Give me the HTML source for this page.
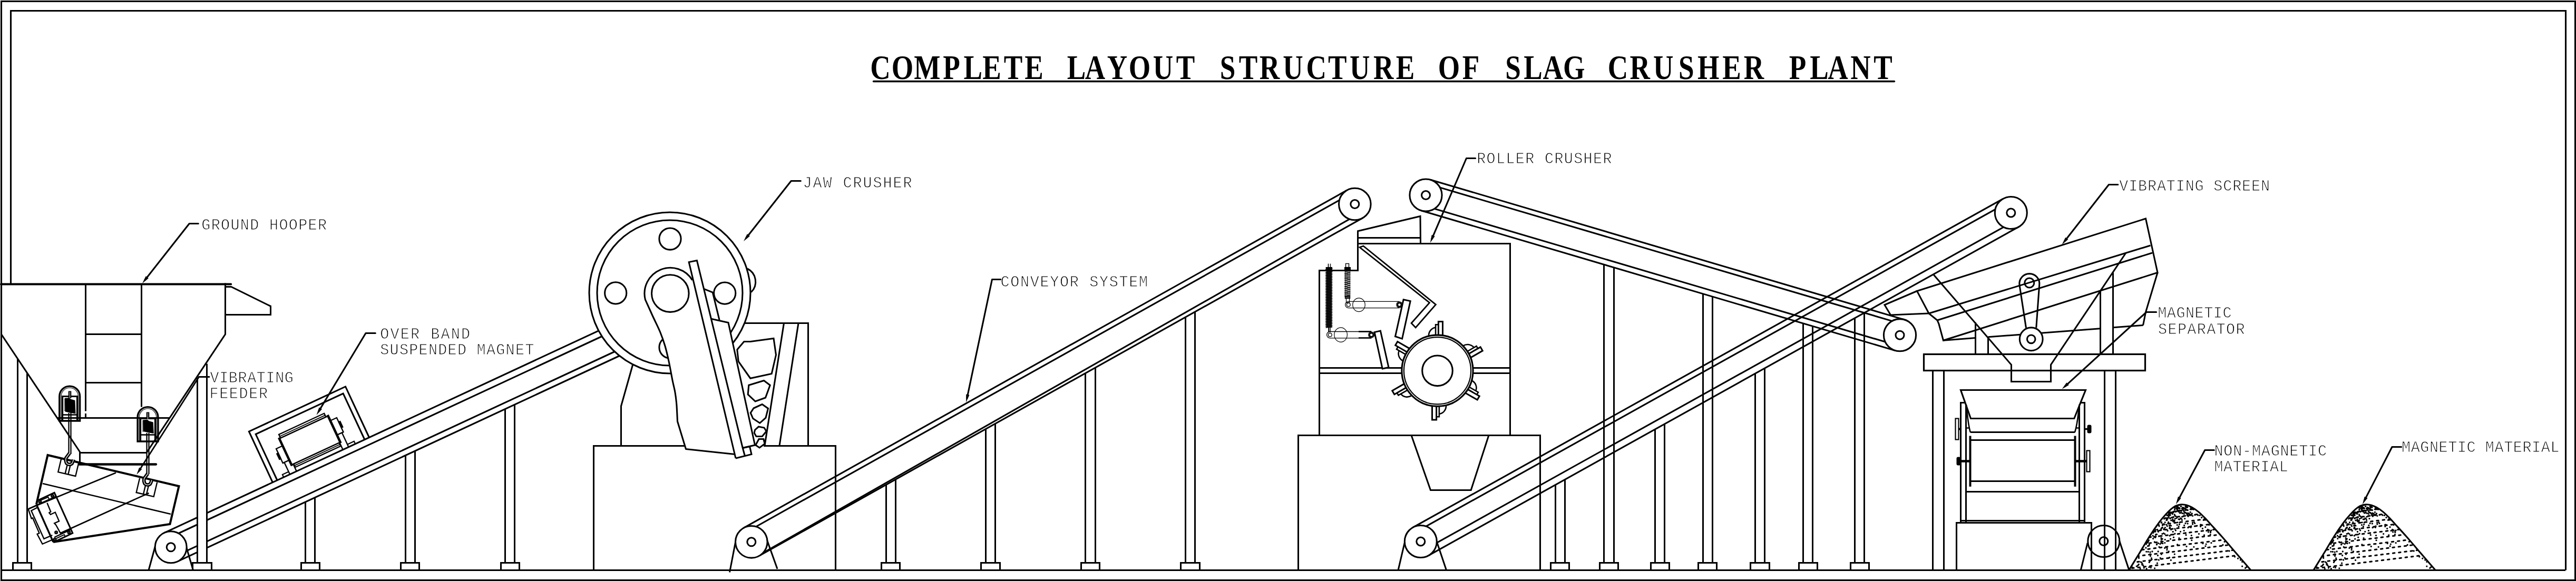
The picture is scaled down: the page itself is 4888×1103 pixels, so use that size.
<!DOCTYPE html>
<html lang="en">
<head>
<meta charset="utf-8">
<title>Complete Layout Structure of Slag Crusher Plant</title>
<style>
html,body{margin:0;padding:0;background:#fff;}
body{width:4888px;height:1103px;}
svg{display:block;will-change:transform;}
.d{fill:none;stroke:#000;stroke-width:3.05;stroke-linecap:butt;stroke-linejoin:miter;}
.lb{font-family:"Liberation Mono","DejaVu Sans Mono",monospace;fill:#000;stroke:#fff;stroke-width:1px;}
.tt{font-family:"Liberation Serif","DejaVu Serif",serif;font-weight:bold;font-size:66.5px;fill:#000;stroke:none;}
</style>
</head>
<body>
<svg width="4888" height="1103" viewBox="0 0 4888 1103" role="img" aria-label="Complete layout structure of slag crusher plant">
<rect x="0" y="0" width="4888" height="1103" fill="#fff"/>
<g class="d">
<g stroke-width="3.1">
<rect x="2.5" y="2.5" width="4884" height="1099"/>
<polyline points="20.5,540 20.5,20.5 4868.5,20.5 4868.5,1082.6"/>
<line x1="2" y1="1082.5" x2="4868" y2="1082.5" stroke-width="3.0"/>
</g>
<line x1="311.6" y1="1011.6" x2="1135.9" y2="627.8"/>
<line x1="338.8" y1="1012.5" x2="1142.2" y2="638.5"/>
<line x1="353.3" y1="1046.1" x2="1166.3" y2="667.5"/>
<line x1="336.9" y1="1065.9" x2="1175.5" y2="675.5"/>
<line x1="579.5" y1="953" x2="579.5" y2="1068.3" stroke-width="3.0"/>
<line x1="597.5" y1="944.5" x2="597.5" y2="1068.3" stroke-width="3.0"/>
<polyline points="571.5,1082.6 571.5,1068.5 606.5,1068.5 606.5,1082.6"/>
<line x1="769.5" y1="864.8" x2="769.5" y2="1068.3" stroke-width="3.0"/>
<line x1="787.5" y1="856.3" x2="787.5" y2="1068.3" stroke-width="3.0"/>
<polyline points="760.5,1082.6 760.5,1068.5 795.5,1068.5 795.5,1082.6"/>
<line x1="958.5" y1="776.5" x2="958.5" y2="1068.3" stroke-width="3.0"/>
<line x1="976.5" y1="768.1" x2="976.5" y2="1068.3" stroke-width="3.0"/>
<polyline points="950.5,1082.6 950.5,1068.5 985.5,1068.5 985.5,1082.6"/>
<line x1="294.5" y1="1037" x2="282" y2="1082.6"/>
<line x1="354" y1="1040" x2="366.5" y2="1082.6"/>
<circle cx="324.2" cy="1038.8" r="30" fill="#fff"/>
<circle cx="324.2" cy="1038.8" r="8"/>
<g transform="translate(311.6,1011.6) rotate(-24.97) scale(1,-1)">
<polyline points="227,0 227,106.5 429,106.5 429,0"/>
<polyline points="236.5,0 236.5,96.5 419.5,96.5 419.5,0"/>
<rect x="273" y="15" width="103" height="55" stroke-width="2.6"/>
<line x1="273.5" y1="13" x2="273.5" y2="72" stroke-width="4.5"/>
<line x1="375.5" y1="13" x2="375.5" y2="72" stroke-width="4.5"/>
<polyline points="276,70 276,77.5 371,77.5 371,70" stroke-width="2.4"/>
<line x1="276" y1="73.5" x2="371" y2="73.5" stroke-width="1.8"/>
<polyline points="278,15 278,8 373,8 373,15" stroke-width="2.4"/>
<line x1="278" y1="11.5" x2="373" y2="11.5" stroke-width="1.8"/>
<polyline points="273,55 260,55 260,25 273,25" stroke-width="2.4"/>
<polyline points="376,60 389,60 389,30 376,30" stroke-width="2.4"/>
<rect x="257" y="34" width="3" height="12" stroke-width="2" fill="#000"/>
<rect x="389" y="39" width="3" height="12" stroke-width="2" fill="#000"/>
<line x1="263" y1="25" x2="263" y2="0" stroke-width="2.4"/>
<line x1="277" y1="15" x2="277" y2="0" stroke-width="2.4"/>
<line x1="386" y1="30" x2="386" y2="0" stroke-width="2.4"/>
<line x1="374" y1="15" x2="374" y2="0" stroke-width="2.4"/>
<polyline points="250,0 250,5.5 263,5.5" stroke-width="2.2"/>
<polyline points="386,5.5 400,5.5 400,0" stroke-width="2.2"/>
</g>
<rect x="374.5" y="960" width="18" height="108" fill="#fff" stroke="none"/>
<line x1="33.5" y1="681.5" x2="33.5" y2="1068.3" stroke-width="3.0"/>
<line x1="51.5" y1="709" x2="51.5" y2="1068.3" stroke-width="3.0"/>
<polyline points="24.5,1082.6 24.5,1068.5 59.5,1068.5 59.5,1082.6"/>
<line x1="374.5" y1="717" x2="374.5" y2="1068.3" stroke-width="3.0"/>
<line x1="392.5" y1="690.5" x2="392.5" y2="1068.3" stroke-width="3.0"/>
<polyline points="365.5,1082.6 365.5,1068.5 401.5,1068.5 401.5,1082.6"/>
<line x1="2" y1="539.5" x2="438.2" y2="539.5" stroke-width="4.0" stroke-linecap="round"/>
<polyline points="2.5,540 2.5,634.5 151.3,857.5"/>
<polyline points="427.5,537.5 427.5,634.5 278,859.5"/>
<line x1="162.5" y1="540" x2="162.5" y2="780.5" stroke-width="3.0"/>
<line x1="162.5" y1="785" x2="162.5" y2="793" stroke-width="3.0"/>
<line x1="268.5" y1="540" x2="268.5" y2="772.5" stroke-width="3.0"/>
<line x1="162" y1="634.5" x2="268.5" y2="634.5" stroke-width="3.0"/>
<line x1="162" y1="726.5" x2="268.5" y2="726.5" stroke-width="3.0"/>
<line x1="109" y1="793.5" x2="322.5" y2="793.5" stroke-width="3.0"/>
<line x1="151" y1="859.5" x2="278" y2="859.5" stroke-width="3.0"/>
<line x1="151.5" y1="857" x2="151.5" y2="881" stroke-width="3.0"/>
<line x1="150" y1="881.5" x2="296" y2="881.5" stroke-width="4.3" stroke-linecap="round"/>
<polyline points="427.8,544.5 438.8,544.5 513.5,581.3 513.5,597.5 427.8,597.5"/>
<path d="M112.8,799 V752.5 A19.4,19.4 0 0 1 151.6,752.5 V799 Z" stroke-width="3.4"/>
<path d="M116,799 V752.5 A16.2,16.2 0 0 1 148.4,752.5 V799" stroke-width="1.1"/>
<polyline points="118.5,799 118.5,752.5 146.5,752.5 146.5,799" stroke-width="3.2"/>
<line x1="118.4" y1="787.5" x2="146" y2="787.5" stroke-width="2.6"/>
<polygon points="123.7,756.5 131.2,756 134.2,758.5 141.7,760.5 142.7,784.5 133.2,783 124.2,781" stroke-width="1.5" fill="#000"/>
<path d="M121.7,757.5 h3 M121.7,759.7 h3 M121.7,761.9 h3 M121.7,764.1 h3 M121.7,766.3 h3 M121.7,768.5 h3 M121.7,770.7 h3 M121.7,772.9 h3 M121.7,775.1 h3 M121.7,777.3 h3 M121.7,779.5 h3 " stroke-width="1.0"/>
<path d="M261.1,838 V792 A19.4,19.4 0 0 1 299.9,792 V838 Z" stroke-width="3.4"/>
<path d="M264.3,838 V792 A16.2,16.2 0 0 1 296.7,792 V838" stroke-width="1.1"/>
<polyline points="266.5,838 266.5,794.5 294.5,794.5 294.5,838" stroke-width="3.2"/>
<line x1="266.7" y1="825.5" x2="294.3" y2="825.5" stroke-width="2.6"/>
<polygon points="272,798 279.5,797.5 282.5,800 290,802 291,822 281.5,820.5 272.5,818.5" stroke-width="1.5" fill="#000"/>
<path d="M270,799 h3 M270,801.2 h3 M270,803.4 h3 M270,805.6 h3 M270,807.8 h3 M270,810 h3 M270,812.2 h3 M270,814.4 h3 M270,816.6 h3 M270,818.8 h3 " stroke-width="1.0"/>
<line x1="132.5" y1="742.5" x2="132.5" y2="756" stroke-width="5.6"/>
<line x1="132.5" y1="744" x2="132.5" y2="756" stroke-width="1.2" stroke="#bbb"/>
<line x1="130.5" y1="784" x2="130.5" y2="862" stroke-width="2.3"/>
<line x1="134.5" y1="784" x2="134.5" y2="862" stroke-width="2.3"/>
<line x1="280.5" y1="782.5" x2="280.5" y2="796" stroke-width="5.6"/>
<line x1="280.5" y1="784" x2="280.5" y2="796" stroke-width="1.2" stroke="#bbb"/>
<line x1="278.5" y1="822" x2="278.5" y2="900" stroke-width="2.3"/>
<line x1="282.5" y1="822" x2="282.5" y2="900" stroke-width="2.3"/>
<polyline points="69,957.5 90.5,864 339.5,923 322.5,995 101,1029" stroke-width="4.0" stroke-linejoin="miter"/>
<polyline points="69,957.5 101,1029" stroke-width="3.4"/>
<line x1="81" y1="918" x2="324" y2="976" stroke-width="2.6"/>
<line x1="220" y1="897.5" x2="54" y2="966" stroke-width="2.6"/>
<line x1="282.5" y1="936" x2="115" y2="1012" stroke-width="2.6"/>
<g transform="translate(130,886.5) rotate(13.3)">
<polyline points="-17,-14 -17,14 17,14 17,-14" stroke-width="2.4"/>
<line x1="-3.2" y1="-3" x2="-3.2" y2="14" stroke-width="2.4"/>
<line x1="2.6" y1="-3" x2="2.6" y2="14" stroke-width="2.4"/>
</g>
<g transform="translate(278.4,925.3) rotate(13.3)">
<polyline points="-17,-14 -17,14 17,14 17,-14" stroke-width="2.4"/>
<line x1="-3.2" y1="-3" x2="-3.2" y2="14" stroke-width="2.4"/>
<line x1="2.6" y1="-3" x2="2.6" y2="14" stroke-width="2.4"/>
</g>
<path d="M131.9,860.5 L125.3,869.4 Q123.7,875 126.5,879.7 Q131.6,883.7 136.5,880 Q139,875.6 139.4,872.5" stroke-width="6.6" stroke-linejoin="round"/>
<path d="M131.9,860.5 L125.3,869.4 Q123.7,875 126.5,879.7 Q131.6,883.7 136.5,880 Q139,875.6 139.4,872.5" stroke-width="1.3" stroke="#fff" stroke-linejoin="round"/>
<path d="M280.3,899.3 L273.7,908.2 Q272.1,913.8 274.9,918.5 Q280,922.5 284.9,918.8 Q287.4,914.4 287.8,911.3" stroke-width="6.6" stroke-linejoin="round"/>
<path d="M280.3,899.3 L273.7,908.2 Q272.1,913.8 274.9,918.5 Q280,922.5 284.9,918.8 Q287.4,914.4 287.8,911.3" stroke-width="1.3" stroke="#fff" stroke-linejoin="round"/>
<polyline points="72.5,949.7 103.2,935.3 137.8,1012.1 107.2,1026.9" stroke-width="3"/>
<polyline points="72.5,957.6 53.7,966.6 59.7,984.4 62.1,983.4 74.5,1012.1 70.6,1014 80.5,1032.8 101.2,1023.9" stroke-width="2.4"/>
<polyline points="72.5,962.6 59.3,969.5 83.4,1022.9 99.3,1016" stroke-width="2.4"/>
<polyline points="89.4,954.7 96.3,971.5 93.3,973.5 95.9,976.8 104.8,972.5 112.1,989.3 103.2,993.3 106.2,996.6 115.1,1013" stroke-width="2.4"/>
<polyline points="77.5,949.7 91.3,943.8 93.7,948.7 79.5,954.7" stroke-width="2"/>
<polyline points="107.2,1022 122,1015 124,1019 109.1,1025.9" stroke-width="2"/>
<line x1="72.5" y1="957.6" x2="105.2" y2="942.8" stroke-width="2.4"/>
<line x1="103.2" y1="1020" x2="134.9" y2="1005.1" stroke-width="2.4"/>
<circle cx="99.6" cy="941.4" r="2.6" stroke-width="1.8" fill="#333"/>
<circle cx="75.9" cy="952.3" r="2.6" stroke-width="1.8" fill="#333"/>
<circle cx="106.6" cy="1010.7" r="2.6" stroke-width="1.8" fill="#333"/>
<circle cx="130.9" cy="1010.7" r="2.6" stroke-width="1.8" fill="#333"/>
<circle cx="104.2" cy="1023.9" r="2.6" stroke-width="1.8" fill="#333"/>
<line x1="1410.9" y1="1002.3" x2="2555.9" y2="361.1"/>
<line x1="1415.5" y1="1010.5" x2="2560.5" y2="369.3"/>
<line x1="1440.6" y1="1055.2" x2="2585.6" y2="413.9"/>
<line x1="1441.7" y1="1053.2" x2="2580.4" y2="404.8"/>
<line x1="1681.5" y1="920.5" x2="1681.5" y2="1068.3" stroke-width="3.0"/>
<line x1="1699.5" y1="910.3" x2="1699.5" y2="1068.3" stroke-width="3.0"/>
<polyline points="1672.5,1082.6 1672.5,1068.5 1707.5,1068.5 1707.5,1082.6"/>
<line x1="1870.5" y1="814.5" x2="1870.5" y2="1068.3" stroke-width="3.0"/>
<line x1="1888.5" y1="804.3" x2="1888.5" y2="1068.3" stroke-width="3.0"/>
<polyline points="1861.5,1082.6 1861.5,1068.5 1897.5,1068.5 1897.5,1082.6"/>
<line x1="2059.5" y1="708.4" x2="2059.5" y2="1068.3" stroke-width="3.0"/>
<line x1="2078.5" y1="698.1" x2="2078.5" y2="1068.3" stroke-width="3.0"/>
<polyline points="2051.5,1082.6 2051.5,1068.5 2086.5,1068.5 2086.5,1082.6"/>
<line x1="2249.5" y1="602.3" x2="2249.5" y2="1068.3" stroke-width="3.0"/>
<line x1="2267.5" y1="592" x2="2267.5" y2="1068.3" stroke-width="3.0"/>
<polyline points="2240.5,1082.6 2240.5,1068.5 2276.5,1068.5 2276.5,1082.6"/>
<line x1="1396" y1="1027" x2="1384.5" y2="1086.5"/>
<line x1="1455.5" y1="1025.5" x2="1475" y2="1080"/>
<circle cx="1425.8" cy="1028.8" r="30.3" fill="#fff"/>
<circle cx="1425.8" cy="1028.8" r="8"/>
<circle cx="2570.8" cy="387.5" r="30.3" fill="#fff"/>
<circle cx="2570.8" cy="387.5" r="8"/>
<polyline points="1126.5,1082.6 1126.5,846.5 1300,846.5"/>
<polyline points="1449,846.5 1585.5,846.5 1585.5,1082.6"/>
<polyline points="1200.5,693 1178.5,771 1178.5,846"/>
<polyline points="1413.5,613.5 1533.5,613.5 1533.5,846"/>
<line x1="1487.5" y1="613.5" x2="1451" y2="846"/>
<line x1="1515" y1="613.5" x2="1479" y2="846"/>
<circle cx="1271" cy="556" r="153"/>
<circle cx="1271" cy="556" r="138"/>
<circle cx="1271.5" cy="453.5" r="20.6"/>
<circle cx="1168.2" cy="556.3" r="20.6"/>
<circle cx="1375.2" cy="556.6" r="20.6"/>
<circle cx="1271.5" cy="659.5" r="20.6"/>
<path d="M1418,510 A27.6,27.6 0 0 1 1425.3,554.7"/>
<polygon points="1224,569 1230,580 1252.5,630 1267.5,680 1276,725 1280,732.5 1283.8,767.5 1285,800 1301,852.5 1395,862.5 1396,870 1426,862.5 1431.5,845 1382,613 1349.4,605.3 1334.7,545.5 1290,545.5" fill="#fff" stroke="none"/>
<circle cx="1271.8" cy="557.1" r="35.3" fill="#fff"/>
<path d="M1313.7,531.9 A48.9,48.9 0 0 0 1224.4,568.9 C1229.1,579.3 1233.8,589.8 1238.5,600 C1243.2,610.2 1248.6,620.5 1252.5,630 C1256.4,639.5 1259.2,647.3 1262,657 C1264.8,666.7 1267.2,677.2 1269.5,688 C1271.8,698.8 1274.1,712.5 1276,722 C1277.9,731.5 1279.7,737.4 1281,745 C1282.3,752.6 1283,758.3 1283.8,767.5 C1284.5,776.7 1285.2,794.6 1285.5,800 L1301.5,852.5 L1395,862.5" stroke-linejoin="round"/>
<polyline points="1396,870 1307.2,497.6 1322.4,494.5 1409.3,850.5 1413.5,866"/>
<polyline points="1396,870 1426,862.5 1422.5,847.5 1409,850.5"/>
<polyline points="1336.1,548.7 1352.3,555.2 1365.1,607.7"/>
<polyline points="1349.4,605.3 1382,612.5 1432.5,845 1409,850.5"/>
<polygon points="1398.8,663.8 1411.8,648.5 1423.8,648.5 1468,642.5 1472.5,673.8 1464.2,709.5 1423.8,718.2 1401.2,686.2"/>
<polygon points="1420.8,731.2 1449.5,722.5 1461.2,731.2 1452.5,755 1433.2,762 1419.2,748.8"/>
<polygon points="1430,775 1446.2,767.5 1457.5,775.5 1453,793.2 1441.8,803.2 1428.8,794.5 1424.2,783.8"/>
<polygon points="1439.5,810 1450,812 1454.2,818.8 1446.2,828.5 1435,828.5 1431.2,822 1432.5,816.2"/>
<polygon points="1440,833.5 1448.8,833.5 1451.2,842.5 1441.2,850 1433.8,845"/>
<line x1="2714.2" y1="341.2" x2="3613.7" y2="606.9"/>
<line x1="2711.6" y1="349.9" x2="3611.1" y2="615.6"/>
<line x1="2699.8" y1="389.8" x2="3599.3" y2="655.5"/>
<line x1="2696.8" y1="399.8" x2="3596.3" y2="665.6"/>
<line x1="3043.5" y1="502.4" x2="3043.5" y2="1068.3" stroke-width="3.0"/>
<line x1="3062.5" y1="507.8" x2="3062.5" y2="1068.3" stroke-width="3.0"/>
<polyline points="3035.5,1082.6 3035.5,1068.5 3070.5,1068.5 3070.5,1082.6"/>
<line x1="3231.5" y1="557.7" x2="3231.5" y2="1068.3" stroke-width="3.0"/>
<line x1="3249.5" y1="563.1" x2="3249.5" y2="1068.3" stroke-width="3.0"/>
<polyline points="3222.5,1082.6 3222.5,1068.5 3257.5,1068.5 3257.5,1082.6"/>
<line x1="3421.5" y1="613.9" x2="3421.5" y2="1068.3" stroke-width="3.0"/>
<line x1="3439.5" y1="619.4" x2="3439.5" y2="1068.3" stroke-width="3.0"/>
<polyline points="3413.5,1082.6 3413.5,1068.5 3448.5,1068.5 3448.5,1082.6"/>
<circle cx="2705.5" cy="370.5" r="30.6" fill="#fff"/>
<circle cx="2705.5" cy="370.5" r="8"/>
<circle cx="3605" cy="636.2" r="30.6" fill="#fff"/>
<circle cx="3605" cy="636.2" r="8"/>
<line x1="2680.9" y1="1001.4" x2="3800.9" y2="377.4"/>
<line x1="2685.9" y1="1010.4" x2="3805.9" y2="386.4"/>
<line x1="2704" y1="1042.9" x2="3824" y2="418.9"/>
<line x1="2710.6" y1="1054.6" x2="3830.6" y2="430.6"/>
<line x1="2951.5" y1="920.7" x2="2951.5" y2="1068.3" stroke-width="3.0"/>
<line x1="2969.5" y1="910.5" x2="2969.5" y2="1068.3" stroke-width="3.0"/>
<polyline points="2942.5,1082.6 2942.5,1068.5 2977.5,1068.5 2977.5,1082.6"/>
<line x1="3140.5" y1="815.1" x2="3140.5" y2="1068.3" stroke-width="3.0"/>
<line x1="3158.5" y1="804.9" x2="3158.5" y2="1068.3" stroke-width="3.0"/>
<polyline points="3132.5,1082.6 3132.5,1068.5 3167.5,1068.5 3167.5,1082.6"/>
<line x1="3330.5" y1="709.4" x2="3330.5" y2="1068.3" stroke-width="3.0"/>
<line x1="3348.5" y1="699.2" x2="3348.5" y2="1068.3" stroke-width="3.0"/>
<polyline points="3321.5,1082.6 3321.5,1068.5 3357.5,1068.5 3357.5,1082.6"/>
<line x1="3519.5" y1="604" x2="3519.5" y2="1068.3" stroke-width="3.0"/>
<line x1="3537.5" y1="593.8" x2="3537.5" y2="1068.3" stroke-width="3.0"/>
<polyline points="3511.5,1082.6 3511.5,1068.5 3546.5,1068.5 3546.5,1082.6"/>
<line x1="2665.8" y1="1028" x2="2653" y2="1082.6"/>
<line x1="2726.2" y1="1028" x2="2744.5" y2="1082.6"/>
<circle cx="2695.8" cy="1028" r="30.5" fill="#fff"/>
<circle cx="2695.8" cy="1028" r="8"/>
<circle cx="3815.8" cy="404" r="30.5" fill="#fff"/>
<circle cx="3815.8" cy="404" r="8"/>
<polyline points="2463.5,1082.6 2463.5,826.5 2922.5,826.5 2922.5,1082.6"/>
<polyline points="2678,826.3 2714.5,930.5 2791.2,930.5 2825,826.3"/>
<polyline points="2503.5,826 2503.5,513.5 2576.5,513.5 2576.5,438.8 2695,410.5 2695.5,462.5"/>
<line x1="2575.5" y1="462.5" x2="2865.5" y2="462.5" stroke-width="3.0"/>
<line x1="2865.5" y1="461" x2="2865.5" y2="826" stroke-width="3.0"/>
<line x1="2576.8" y1="451.5" x2="2695" y2="451.5" stroke-width="3.0"/>
<line x1="2503.2" y1="698.5" x2="2665" y2="698.5" stroke-width="3.0"/>
<line x1="2790" y1="698.5" x2="2865.5" y2="698.5" stroke-width="3.0"/>
<line x1="2503.2" y1="708.5" x2="2665" y2="708.5" stroke-width="3.0"/>
<line x1="2790" y1="708.5" x2="2865.5" y2="708.5" stroke-width="3.0"/>
<circle cx="2727.5" cy="703.8" r="67.6" stroke-width="3.2" fill="#fff"/>
<circle cx="2727.5" cy="703.8" r="63.6" stroke-width="2.2"/>
<circle cx="2727.5" cy="703.8" r="28.8"/>
<g transform="translate(2727.5,703.8) rotate(0)">
<polyline points="1.9,-67.4 1.9,-93.2 10,-93.2 10,-67" stroke-width="3"/>
<polyline points="-3.4,-67.6 -3.4,-87.5 1.9,-87.5" stroke-width="2.6"/>
<path d="M-16.5,-65.7 A14.5,15.5 0 0 1 -3.4,-82" stroke-width="2.6"/>
</g>
<g transform="translate(2727.5,703.8) rotate(60)">
<polyline points="1.9,-67.4 1.9,-93.2 10,-93.2 10,-67" stroke-width="3"/>
<polyline points="-3.4,-67.6 -3.4,-87.5 1.9,-87.5" stroke-width="2.6"/>
<path d="M-16.5,-65.7 A14.5,15.5 0 0 1 -3.4,-82" stroke-width="2.6"/>
</g>
<g transform="translate(2727.5,703.8) rotate(120)">
<polyline points="1.9,-67.4 1.9,-93.2 10,-93.2 10,-67" stroke-width="3"/>
<polyline points="-3.4,-67.6 -3.4,-87.5 1.9,-87.5" stroke-width="2.6"/>
<path d="M-16.5,-65.7 A14.5,15.5 0 0 1 -3.4,-82" stroke-width="2.6"/>
</g>
<g transform="translate(2727.5,703.8) rotate(180)">
<polyline points="1.9,-67.4 1.9,-93.2 10,-93.2 10,-67" stroke-width="3"/>
<polyline points="-3.4,-67.6 -3.4,-87.5 1.9,-87.5" stroke-width="2.6"/>
<path d="M-16.5,-65.7 A14.5,15.5 0 0 1 -3.4,-82" stroke-width="2.6"/>
</g>
<g transform="translate(2727.5,703.8) rotate(240)">
<polyline points="1.9,-67.4 1.9,-93.2 10,-93.2 10,-67" stroke-width="3"/>
<polyline points="-3.4,-67.6 -3.4,-87.5 1.9,-87.5" stroke-width="2.6"/>
<path d="M-16.5,-65.7 A14.5,15.5 0 0 1 -3.4,-82" stroke-width="2.6"/>
</g>
<g transform="translate(2727.5,703.8) rotate(300)">
<polyline points="1.9,-67.4 1.9,-93.2 10,-93.2 10,-67" stroke-width="3"/>
<polyline points="-3.4,-67.6 -3.4,-87.5 1.9,-87.5" stroke-width="2.6"/>
<path d="M-16.5,-65.7 A14.5,15.5 0 0 1 -3.4,-82" stroke-width="2.6"/>
</g>
<polygon points="2587,467 2724.4,578.1 2686.2,621.9 2678.1,613.5 2712.5,574.6 2580,469.5" stroke-width="2.8"/>
<polygon points="2663.1,568.8 2676.2,571.6 2660.6,643.1 2647.5,638.8" stroke-width="3.0"/>
<polygon points="2608.1,630.6 2619.4,628.1 2635,697.5 2623.2,700" stroke-width="3.0" fill="#fff"/>
<path d="M2558.8,572.4 H2655.4 M2558.8,584.6 H2655.4 M2558.8,572.4 A6.1,6.1 0 0 0 2558.8,584.6" stroke-width="1.3"/>
<circle cx="2558.8" cy="578.5" r="3.4" stroke-width="1.3"/>
<circle cx="2655.4" cy="578.5" r="5.6" stroke-width="1.2"/>
<circle cx="2655.4" cy="578.5" r="3.6" stroke-width="2.6"/>
<path d="M2523.8,629.5 H2602.2 M2523.8,641.9 H2602.2 M2523.8,629.5 A6.2,6.2 0 0 0 2523.8,641.9" stroke-width="1.3"/>
<circle cx="2523.8" cy="635.7" r="3.4" stroke-width="1.3"/>
<circle cx="2602.2" cy="635.7" r="5.6" stroke-width="1.2"/>
<circle cx="2602.2" cy="635.7" r="3.6" stroke-width="2.6"/>
<line x1="2578" y1="629.5" x2="2602.2" y2="629.5" stroke-width="2.6"/>
<line x1="2578" y1="641.5" x2="2602.2" y2="641.5" stroke-width="2.6"/>
<ellipse cx="2578.5" cy="578.75" rx="11.75" ry="12.9" stroke-width="1.2"/>
<ellipse cx="2544.1" cy="635.6" rx="12.3" ry="13.75" stroke-width="1.2"/>
<rect x="2516.5" y="515" width="10.5" height="107" fill="#222" stroke="none"/>
<path d="M2515.5,508 L2527.9,509.5 L2515.5,511 L2527.9,512.5 L2515.5,514 L2527.9,515.5 L2515.5,517 L2527.9,518.5 L2515.5,520 L2527.9,521.5 L2515.5,523 L2527.9,524.5 L2515.5,526 L2527.9,527.5 L2515.5,529 L2527.9,530.5 L2515.5,532 L2527.9,533.5 L2515.5,535 L2527.9,536.5 L2515.5,538 L2527.9,539.5 L2515.5,541 L2527.9,542.5 L2515.5,544 L2527.9,545.5 L2515.5,547 L2527.9,548.5 L2515.5,550 L2527.9,551.5 L2515.5,553 L2527.9,554.5 L2515.5,556 L2527.9,557.5 L2515.5,559 L2527.9,560.5 L2515.5,562 L2527.9,563.5 L2515.5,565 L2527.9,566.5 L2515.5,568 L2527.9,569.5 L2515.5,571 L2527.9,572.5 L2515.5,574 L2527.9,575.5 L2515.5,577 L2527.9,578.5 L2515.5,580 L2527.9,581.5 L2515.5,583 L2527.9,584.5 L2515.5,586 L2527.9,587.5 L2515.5,589 L2527.9,590.5 L2515.5,592 L2527.9,593.5 L2515.5,595 L2527.9,596.5 L2515.5,598 L2527.9,599.5 L2515.5,601 L2527.9,602.5 L2515.5,604 L2527.9,605.5 L2515.5,607 L2527.9,608.5 L2515.5,610 L2527.9,611.5 L2515.5,613 L2527.9,614.5 L2515.5,616 L2527.9,617.5 L2515.5,619 L2527.9,620.5 L2515.5,622" stroke-width="1.6" stroke-linejoin="round"/>
<line x1="2520.5" y1="500.6" x2="2520.5" y2="512" stroke-width="1.6"/>
<line x1="2524.5" y1="500.6" x2="2524.5" y2="512" stroke-width="1.4"/>
<rect x="2516.5" y="507.5" width="11" height="7" stroke-width="1" fill="#000"/>
<line x1="2521.5" y1="622" x2="2521.5" y2="631" stroke-width="2.4"/>
<line x1="2524.5" y1="622" x2="2524.5" y2="631" stroke-width="1.2"/>
<path d="M2551.3,515 L2562.1,516.8 L2551.3,518.6 L2562.1,520.4 L2551.3,522.2 L2562.1,524 L2551.3,525.8 L2562.1,527.6 L2551.3,529.4 L2562.1,531.2 L2551.3,533 L2562.1,534.8 L2551.3,536.6 L2562.1,538.4 L2551.3,540.2 L2562.1,542 L2551.3,543.8 L2562.1,545.6 L2551.3,547.4 L2562.1,549.2 L2551.3,551 L2562.1,552.8 L2551.3,554.6 L2562.1,556.4 L2551.3,558.2 L2562.1,560 L2551.3,561.8 L2562.1,562" stroke-width="1.25" stroke-linejoin="round"/>
<line x1="2552.5" y1="515" x2="2552.5" y2="562" stroke-width="0.9"/>
<line x1="2561.5" y1="515" x2="2561.5" y2="562" stroke-width="0.9"/>
<rect x="2553.5" y="500.5" width="6" height="7" stroke-width="1.4"/>
<rect x="2551.5" y="507.5" width="11" height="7" stroke-width="1" fill="#000"/>
<rect x="2552.5" y="562.5" width="9" height="4" stroke-width="1.4" fill="#444"/>
<polyline points="2554.5,566 2554.5,574.5 2560.5,574.5 2560.5,566" stroke-width="1.3"/>
<polygon points="3637.5,552.5 4071.5,415 4094,517.5 3687.5,646.2 3679,615 3676,608 3660,595"/>
<line x1="3660" y1="595" x2="4080.5" y2="466"/>
<line x1="3676" y1="608" x2="4084" y2="480"/>
<polyline points="3637.5,552.5 3576,578.8 3587.5,598 3660,595"/>
<polyline points="3668.8,521.2 3816.5,692.5 3816.5,724.5 3891.5,724.5 3891.5,692.5 4034,480"/>
<line x1="3985.5" y1="552.5" x2="3985.5" y2="672.5" stroke-width="3.0"/>
<line x1="4009.5" y1="517.5" x2="4009.5" y2="672.5" stroke-width="3.0"/>
<line x1="3748.5" y1="612" x2="3748.5" y2="672.5" stroke-width="3.0"/>
<line x1="3772.5" y1="639" x2="3772.5" y2="672.5" stroke-width="3.0"/>
<line x1="3687.5" y1="646.2" x2="3748.2" y2="641.6"/>
<line x1="3772.5" y1="639.8" x2="3985.2" y2="623.7"/>
<line x1="4009.5" y1="621.8" x2="4066.5" y2="617.5"/>
<polyline points="4094,517.5 4071.5,592.5 4066.5,617.5"/>
<circle cx="3854.2" cy="643.8" r="21.9" fill="#fff"/>
<circle cx="3854.2" cy="643.8" r="7.8"/>
<circle cx="3850.8" cy="537" r="9"/>
<path d="M3844.5,622.5 L3832,541 A19,19 0 1 1 3869.7,541 L3863.75,622.5"/>
<rect x="3650.5" y="672.5" width="420" height="31" stroke-width="3.2"/>
<line x1="3667.5" y1="703" x2="3667.5" y2="1082.6" stroke-width="3.0"/>
<line x1="3688.5" y1="703" x2="3688.5" y2="1082.6" stroke-width="3.0"/>
<line x1="3993.5" y1="703" x2="3993.5" y2="1082.6" stroke-width="3.0"/>
<line x1="4014.5" y1="703" x2="4014.5" y2="1082.6" stroke-width="3.0"/>
<polyline points="3720.5,991.8 3720.5,764.5 3728.5,764.5"/>
<line x1="3730.5" y1="770" x2="3730.5" y2="991.8" stroke-width="3.0"/>
<polyline points="3955.5,991.8 3955.5,764.5 3949,764.5"/>
<line x1="3945.5" y1="770" x2="3945.5" y2="991.8" stroke-width="3.0"/>
<polygon points="3720.5,740.5 3957.5,740.5 3935.8,794.5 3739.5,794.5" stroke-width="3.15"/>
<line x1="3738.8" y1="820.5" x2="3937" y2="820.5" stroke-width="3.2"/>
<path d="M3730.8,768 C3733,785 3734,804 3738.75,820.75 M3731,812.5 H3736" stroke-width="2.6"/>
<path d="M3945.7,768 C3943.5,785 3942.5,804 3937,820.75 M3945.5,812.5 H3939.5" stroke-width="2.6"/>
<line x1="3738.5" y1="827.5" x2="3738.5" y2="923.8" stroke-width="4"/>
<line x1="3937.5" y1="827.5" x2="3937.5" y2="923.8" stroke-width="4"/>
<line x1="3738" y1="835.5" x2="3937.5" y2="835.5" stroke-width="3.2"/>
<line x1="3738" y1="913.5" x2="3937.5" y2="913.5" stroke-width="3.2"/>
<line x1="3731.2" y1="933.5" x2="3945" y2="933.5" stroke-width="3.2"/>
<rect x="3710.5" y="794.5" width="6" height="40" stroke-width="2.2"/>
<line x1="3716.2" y1="814.5" x2="3720.5" y2="814.5" stroke-width="4.2"/>
<rect x="3961.5" y="807.5" width="6" height="14" stroke-width="2" fill="#000" rx="2"/>
<line x1="3955.8" y1="814.5" x2="3961" y2="814.5" stroke-width="3.4"/>
<rect x="3713.5" y="868.5" width="6" height="14" stroke-width="2" fill="#000" rx="2"/>
<line x1="3718" y1="875.5" x2="3738" y2="875.5" stroke-width="4.6"/>
<rect x="3959.5" y="855.5" width="6" height="40" stroke-width="2.2"/>
<line x1="3937.5" y1="875.5" x2="3959.5" y2="875.5" stroke-width="4.6"/>
<polyline points="3712.5,1082.6 3712.5,992.5 3968.5,992.5 3968.5,1082.6"/>
<line x1="3720.5" y1="988.5" x2="3956" y2="988.5" stroke-width="3.0"/>
<circle cx="3991.8" cy="1027.5" r="30"/>
<circle cx="3991.8" cy="1027.5" r="8"/>
<line x1="3961.2" y1="1030.5" x2="3948.2" y2="1082.6"/>
<line x1="4021.2" y1="1025.5" x2="4040" y2="1082.6"/>
<defs><clipPath id="pc"><path d="M4039.6,1082.6 C4043,1077.1 4053.5,1060.2 4060,1049.5 C4066.5,1038.8 4072.4,1028.2 4078.6,1018.5 C4084.8,1008.8 4092,998.5 4097.2,991.5 C4102.4,984.5 4105.9,980.7 4109.6,976.6 C4113.3,972.5 4116.5,969.3 4119.5,966.7 C4122.5,964.1 4125,962.2 4127.5,960.8 C4130,959.4 4132.1,958.9 4134.3,958.4 C4136.5,957.9 4138,957.7 4140.5,957.8 C4143,957.9 4146.1,958 4149.2,958.9 C4152.3,959.8 4155.4,960.9 4159.1,963 C4162.8,965.1 4167.4,968.2 4171.5,971.6 C4175.6,975 4179.8,979.2 4183.9,983.4 C4188,987.6 4190.9,991.1 4196.3,997 C4201.7,1002.9 4208.3,1010 4216.1,1018.8 C4223.9,1027.6 4233.9,1039.4 4243,1050 C4252.1,1060.6 4266.3,1077.2 4271,1082.6 Z"/></clipPath></defs>
<g id="pile">
<g clip-path="url(#pc)">
<g stroke-width="3" stroke-linecap="round" stroke-dasharray="3.6 7.7">
<line x1="4030" y1="1080.7" x2="4280" y2="1050.2" stroke-dashoffset="6.9"/>
<line x1="4030" y1="1069.8" x2="4280" y2="1039.3" stroke-dashoffset="8.2"/>
<line x1="4030" y1="1058.9" x2="4280" y2="1028.4" stroke-dashoffset="8.7"/>
<line x1="4030" y1="1048" x2="4280" y2="1017.5" stroke-dashoffset="10.4"/>
<line x1="4030" y1="1037.1" x2="4280" y2="1006.6" stroke-dashoffset="8.1"/>
<line x1="4030" y1="1026.2" x2="4280" y2="995.7" stroke-dashoffset="10.1"/>
<line x1="4030" y1="1015.3" x2="4280" y2="984.8" stroke-dashoffset="0.3"/>
<line x1="4030" y1="1004.4" x2="4280" y2="973.9" stroke-dashoffset="5.1"/>
<line x1="4030" y1="993.5" x2="4280" y2="963" stroke-dashoffset="10.4"/>
<line x1="4030" y1="982.6" x2="4280" y2="952.1" stroke-dashoffset="7.1"/>
<line x1="4030" y1="971.7" x2="4280" y2="941.2" stroke-dashoffset="9.9"/>
</g>
<path d="M4141.3,974.5h.01M4158.8,1025.7h.01M4150.9,977.5h.01M4149.7,961.2h.01M4131.2,996.6h.01M4114.5,978.3h.01M4072.6,1032.8h.01M4150.7,963.2h.01M4075.2,1029.8h.01M4177.7,982.5h.01M4066.7,1073.6h.01M4112.3,998.7h.01M4135.4,995.6h.01M4162.9,1038.3h.01M4184.9,1036.8h.01M4140.8,966h.01M4126.5,967.4h.01M4121,982.6h.01M4138.6,961.1h.01M4093.6,1005.5h.01M4145.5,972.3h.01M4105.8,1005h.01M4131.6,961.1h.01M4058.5,1059.4h.01M4123.8,990.2h.01M4132.7,965.3h.01M4149.9,962.7h.01M4186.8,1007.6h.01M4177,996.3h.01M4124.5,1020.2h.01M4195.9,1030.7h.01M4071.9,1040h.01M4156.1,966.8h.01M4152.1,980.2h.01M4136.2,973.9h.01M4079.3,1065.5h.01M4126.3,976.9h.01M4123,971.9h.01M4175.6,999.5h.01M4072.7,1047.3h.01M4116.7,1003.2h.01M4131.2,964.9h.01M4123.9,972.9h.01M4126.8,979.1h.01M4128.7,980.2h.01M4153.2,975h.01M4106.6,984.9h.01M4046.4,1077.1h.01M4101.6,1002.7h.01M4131.2,967.4h.01M4094.7,1008.3h.01M4123.2,1009.5h.01M4159.6,965.5h.01M4133.3,971h.01M4096.3,1063h.01M4099.2,1059.3h.01M4116.5,1058.5h.01M4129.9,970.8h.01M4151.3,968.3h.01M4127.2,984.8h.01M4138.7,972.7h.01M4115.9,976.5h.01M4160.4,992.2h.01M4126.5,964.3h.01M4126.9,1004.1h.01M4144.7,972.3h.01M4080.4,1055.6h.01M4162.3,967.2h.01M4113,1007.7h.01M4129.5,965.5h.01M4090.5,1005.8h.01M4101.2,1030.8h.01M4097,998.8h.01M4104.3,994.8h.01M4164.7,993.7h.01M4138.3,961.4h.01M4131.6,1034h.01M4189.3,1005.5h.01M4101.3,1052.2h.01M4108.3,983.3h.01M4117.5,984h.01M4151.3,979.1h.01M4120.7,973.3h.01M4134,985.6h.01M4148.9,975h.01M4115.3,1046.8h.01M4131.6,969.7h.01M4195.8,1007h.01M4179.4,1003.3h.01M4126.3,1052.1h.01M4085.6,1022.5h.01M4075.5,1036.7h.01M4262.6,1076.7h.01M4160.6,995.1h.01M4140.6,981.1h.01M4130.7,964.7h.01M4151.5,974.2h.01M4148.5,962h.01M4142.2,967.7h.01M4128.3,1006.9h.01M4064.6,1071.9h.01M4082.4,1059.7h.01M4090.6,1015h.01M4114.3,977.3h.01M4076.4,1027.8h.01M4145.3,965.7h.01M4181.3,987.4h.01M4150.8,968.6h.01M4147,961.2h.01M4111.3,985.4h.01M4097,1038.4h.01M4106.6,995.9h.01M4159.2,974.9h.01M4136,992h.01M4119.3,972.4h.01M4190.4,1009.9h.01M4138.4,973.4h.01M4144.1,964.2h.01M4081.2,1052.5h.01M4092.6,1033h.01M4073.1,1079.7h.01M4147.7,973.5h.01M4159.3,975.6h.01M4184.8,1000.7h.01M4143.2,980h.01M4143.3,966.1h.01M4125,988.3h.01M4113.8,978.5h.01M4079.8,1052.2h.01M4088.6,1078.8h.01M4103,1001.5h.01M4128.2,971.6h.01M4107.8,1013.8h.01M4100.7,1004.5h.01M4106.4,1004.1h.01M4132,961.8h.01M4115.1,973.5h.01M4065.5,1071h.01M4129.7,961.8h.01M4101.1,1024.9h.01M4175.6,996.1h.01M4144.3,975.7h.01M4142.4,965.8h.01M4102.9,1013.7h.01M4092.4,1014.5h.01M4125.8,990h.01M4134.7,971.5h.01M4194.2,1014.9h.01M4126.1,988.1h.01M4137.5,1009.3h.01M4064.1,1068.7h.01M4140.3,965.1h.01M4157.8,999h.01M4251.5,1063h.01M4113.8,994.1h.01M4119.5,1015.1h.01M4157.2,1001.3h.01M4057.7,1072.2h.01M4146.9,993.5h.01M4140.4,987.3h.01M4119.6,998.1h.01M4114.5,991.3h.01M4081.5,1019.4h.01M4133,965.3h.01M4117.8,975.3h.01M4134.1,999.3h.01M4110.6,996.1h.01M4107.8,1030.6h.01M4118,996.9h.01M4156.2,972.3h.01M4141.8,963.5h.01M4133.8,964.7h.01M4194.3,1008.6h.01M4133.2,963.5h.01M4078.3,1033.9h.01M4221.1,1028.4h.01M4230,1046h.01M4131.9,991.8h.01M4122,975.2h.01M4096.5,1018h.01M4085.8,1011.5h.01M4058.3,1057.5h.01M4103.4,997.3h.01M4112,978.5h.01M4088.2,1009.2h.01M4117.2,1001.1h.01M4089.8,1018.5h.01M4122.7,985.9h.01M4103.2,1023.1h.01M4191.8,996.4h.01M4076.1,1047.5h.01M4136.1,965.6h.01M4123.9,981.4h.01M4119.6,1005.4h.01M4112.1,987.1h.01M4058.2,1071.5h.01M4137.5,984h.01M4147.8,963.5h.01M4101.7,991.3h.01M4184.4,987.1h.01M4164.8,977.5h.01M4111.1,1039h.01M4157.7,976.6h.01M4111.9,1043.9h.01M4129.6,965.4h.01M4056.7,1066.8h.01M4154.5,975.8h.01M4083.1,1062.1h.01M4117.8,1002.1h.01M4095.6,1031.3h.01M4077.7,1036h.01M4117.1,1017h.01M4260.6,1078.4h.01M4103.8,1031.7h.01M4170.7,978h.01M4103.4,1001.8h.01M4105.5,1012.3h.01M4118.5,1023.2h.01M4118,977.9h.01M4143.8,969.9h.01M4074.3,1030.3h.01M4056.2,1074.1h.01M4108.2,991.6h.01M4118.3,984h.01M4122.8,988.7h.01M4100.9,1021.4h.01M4107.7,1040.4h.01M4172.4,1013.6h.01M4089.6,1020.4h.01M4117,978.6h.01M4144.6,997.4h.01M4135.8,986.1h.01M4150.3,978.2h.01M4108.3,1001.7h.01M4054.2,1075.1h.01M4115.1,981.5h.01M4080,1048.2h.01M4254.6,1066.6h.01M4139.1,984.6h.01M4108.2,1024.3h.01M4089.9,1009.2h.01M4074.5,1029.2h.01M4095.5,1009.4h.01M4083.9,1047h.01M4139.5,969.4h.01M4131.4,981.8h.01M4157.2,963.6h.01M4147.4,1012h.01M4077.4,1025.6h.01M4112.1,1040.8h.01M4144.2,1007.3h.01M4130.5,962.8h.01M4240.6,1056.9h.01M4130,983.6h.01M4093.4,1069.2h.01M4180,1031.7h.01M4119.3,1063.4h.01M4085.1,1017h.01M4140.8,964.9h.01M4126.9,1013.2h.01M4115.3,974.5h.01M4135.3,964.1h.01M4101.2,992.4h.01M4068.2,1078.2h.01M4088.3,1028.9h.01M4094.9,1008.2h.01M4134.8,1021.6h.01M4135,969.2h.01M4078.2,1067.5h.01M4081.3,1077.7h.01M4119.7,987.9h.01M4182.5,1016h.01M4157.6,977.9h.01M4145.7,984.6h.01M4094.4,1054.5h.01M4133,969.3h.01M4116.4,997.9h.01M4151.1,994h.01M4122.4,975.8h.01M4194.6,1010.8h.01M4174.2,978.4h.01M4116.7,973.1h.01M4163.5,991.3h.01M4127.3,962.6h.01M4147.7,966.6h.01M4151.9,1001.7h.01M4095.1,1047h.01M4168.8,998.1h.01M4105.5,995.4h.01M4092.4,1033.9h.01M4217.9,1034.5h.01M4149,1037.4h.01M4061.1,1079.6h.01M4119.9,973.7h.01M4157.1,966.5h.01M4077.9,1076.8h.01M4113.5,984.2h.01M4254.6,1075.1h.01M4152.2,978.8h.01M4186.1,1033.1h.01M4110.9,987.5h.01M4148,1015.7h.01M4098.9,1032.7h.01M4096.5,996.7h.01M4246.5,1060.2h.01M4100.1,1017.5h.01M4062.4,1066.9h.01M4160.6,979.3h.01M4131.4,964.4h.01M4158.3,1016.6h.01" stroke-width="3.3" stroke-linecap="round"/>
</g>
<path d="M4039.6,1082.6 C4043,1077.1 4053.5,1060.2 4060,1049.5 C4066.5,1038.8 4072.4,1028.2 4078.6,1018.5 C4084.8,1008.8 4092,998.5 4097.2,991.5 C4102.4,984.5 4105.9,980.7 4109.6,976.6 C4113.3,972.5 4116.5,969.3 4119.5,966.7 C4122.5,964.1 4125,962.2 4127.5,960.8 C4130,959.4 4132.1,958.9 4134.3,958.4 C4136.5,957.9 4138,957.7 4140.5,957.8 C4143,957.9 4146.1,958 4149.2,958.9 C4152.3,959.8 4155.4,960.9 4159.1,963 C4162.8,965.1 4167.4,968.2 4171.5,971.6 C4175.6,975 4179.8,979.2 4183.9,983.4 C4188,987.6 4190.9,991.1 4196.3,997 C4201.7,1002.9 4208.3,1010 4216.1,1018.8 C4223.9,1027.6 4233.9,1039.4 4243,1050 C4252.1,1060.6 4266.3,1077.2 4271,1082.6" stroke-width="3.1"/>
</g>
<use href="#pile" x="350.25"/>
<polyline points="376.3,424.5 359.2,424.5 274.9,531.7" stroke-width="3.1" stroke-linejoin="round" stroke-linecap="round"/>
<polygon points="270,538 276.7,524.2 281.8,528.2" fill="#000" stroke="none"/>
<polyline points="712.3,632.5 694,632.5 604.6,781.1" stroke-width="3.1" stroke-linejoin="round" stroke-linecap="round"/>
<polygon points="600.5,788 605.5,773.5 611,776.8" fill="#000" stroke="none"/>
<polyline points="1519.3,343.5 1501.2,343.5 1415.9,451.7" stroke-width="3.1" stroke-linejoin="round" stroke-linecap="round"/>
<polygon points="1411,458 1417.8,444.2 1422.8,448.2" fill="#000" stroke="none"/>
<polyline points="1898.8,530.5 1882.5,530.5 1834.9,755.9" stroke-width="3.1" stroke-linejoin="round" stroke-linecap="round"/>
<polygon points="1833.2,763.8 1833.2,748.4 1839.5,749.7" fill="#000" stroke="none"/>
<polyline points="2799.6,300.5 2782.5,300.5 2716.9,453.6" stroke-width="3.1" stroke-linejoin="round" stroke-linecap="round"/>
<polygon points="2713.8,461 2716.7,445.9 2722.6,448.5" fill="#000" stroke="none"/>
<polyline points="4018.8,350.5 4001.5,350.5 3917.4,458.2" stroke-width="3.1" stroke-linejoin="round" stroke-linecap="round"/>
<polygon points="3912.5,464.5 3919.2,450.7 3924.3,454.6" fill="#000" stroke="none"/>
<polyline points="4091.6,592.5 4072.8,592.5 3918.4,733.4" stroke-width="3.1" stroke-linejoin="round" stroke-linecap="round"/>
<polygon points="3912.5,738.8 3921.4,726.3 3925.7,731" fill="#000" stroke="none"/>
<polyline points="4201.3,854.5 4183.8,854.5 4132.5,950.4" stroke-width="3.1" stroke-linejoin="round" stroke-linecap="round"/>
<polygon points="4128.8,957.5 4133,942.8 4138.6,945.8" fill="#000" stroke="none"/>
<polyline points="4556.6,848.5 4539,848.5 4486.4,950.4" stroke-width="3.1" stroke-linejoin="round" stroke-linecap="round"/>
<polygon points="4482.8,957.5 4486.8,942.7 4492.5,945.6" fill="#000" stroke="none"/>
<polyline points="398,715.5 377.5,715.5 263,895" stroke-width="2.8"/>
<polygon points="259.2,901 264.2,887.6 269.3,890.8" fill="#000" stroke="none"/>
<text transform="scale(0.8,1)" x="2064.2 2114.8 2167.9 2236.7 2285.6 2330.2 2380.9 2430.4" y="150" class="tt">COMPLETE</text>
<text transform="scale(0.8,1)" x="2530.9 2573.6 2626 2677.3 2734.6 2789.7" y="150" class="tt">LAYOUT</text>
<text transform="scale(0.8,1)" x="2893.5 2938.3 2987.2 3042.7 3098.2 3150 3201.3 3257.6 3310.9" y="150" class="tt">STRUCTURE</text>
<text transform="scale(0.8,1)" x="3411.1 3468.3" y="150" class="tt">OF</text>
<text transform="scale(0.8,1)" x="3570.3 3614.1 3659.4 3707.6" y="150" class="tt">SLAG</text>
<text transform="scale(0.8,1)" x="3813.4 3865.7 3921.1 3981.4 4026.3 4085.4 4136" y="150" class="tt">CRUSHER</text>
<text transform="scale(0.8,1)" x="4243.3 4292.7 4335.4 4389.2 4444.2" y="150" class="tt">PLANT</text>
<line x1="1657.5" y1="154.5" x2="3594.5" y2="154.5" stroke-width="3.4" stroke-linecap="round"/>
<text transform="scale(0.98,1)" x="390.1" y="435.8" textLength="242.6" lengthAdjust="spacing" class="lb" font-size="29.0">GROUND HOOPER</text>
<text transform="scale(0.98,1)" x="406.6" y="725.8" textLength="161.7" lengthAdjust="spacing" class="lb" font-size="29.0">VIBRATING</text>
<text transform="scale(0.98,1)" x="405.6" y="755.8" textLength="112.8" lengthAdjust="spacing" class="lb" font-size="29.0">FEEDER</text>
<text transform="scale(0.98,1)" x="736" y="642.8" textLength="174.2" lengthAdjust="spacing" class="lb" font-size="29.0">OVER BAND</text>
<text transform="scale(0.98,1)" x="736" y="673.3" textLength="298" lengthAdjust="spacing" class="lb" font-size="29.0">SUSPENDED MAGNET</text>
<text transform="scale(0.98,1)" x="1554.6" y="355.8" textLength="211.2" lengthAdjust="spacing" class="lb" font-size="29.0">JAW CRUSHER</text>
<text transform="scale(0.98,1)" x="1937.2" y="543.8" textLength="285.2" lengthAdjust="spacing" class="lb" font-size="29.0">CONVEYOR SYSTEM</text>
<text transform="scale(0.98,1)" x="2859.4" y="309.8" textLength="261.5" lengthAdjust="spacing" class="lb" font-size="29.0">ROLLER CRUSHER</text>
<text transform="scale(0.98,1)" x="4103.3" y="362.3" textLength="291.6" lengthAdjust="spacing" class="lb" font-size="29.0">VIBRATING SCREEN</text>
<text transform="scale(0.98,1)" x="4177.8" y="603.3" textLength="143.1" lengthAdjust="spacing" class="lb" font-size="29.0">MAGNETIC</text>
<text transform="scale(0.98,1)" x="4178.6" y="634" textLength="167.9" lengthAdjust="spacing" class="lb" font-size="29.0">SEPARATOR</text>
<text transform="scale(0.98,1)" x="4287.2" y="865" textLength="217.9" lengthAdjust="spacing" class="lb" font-size="29.0">NON-MAGNETIC</text>
<text transform="scale(0.98,1)" x="4287.2" y="895.3" textLength="143.1" lengthAdjust="spacing" class="lb" font-size="29.0">MATERIAL</text>
<text transform="scale(0.98,1)" x="4650" y="858.3" textLength="305.6" lengthAdjust="spacing" class="lb" font-size="29.0">MAGNETIC MATERIAL</text>
</g>
</svg>
</body>
</html>
